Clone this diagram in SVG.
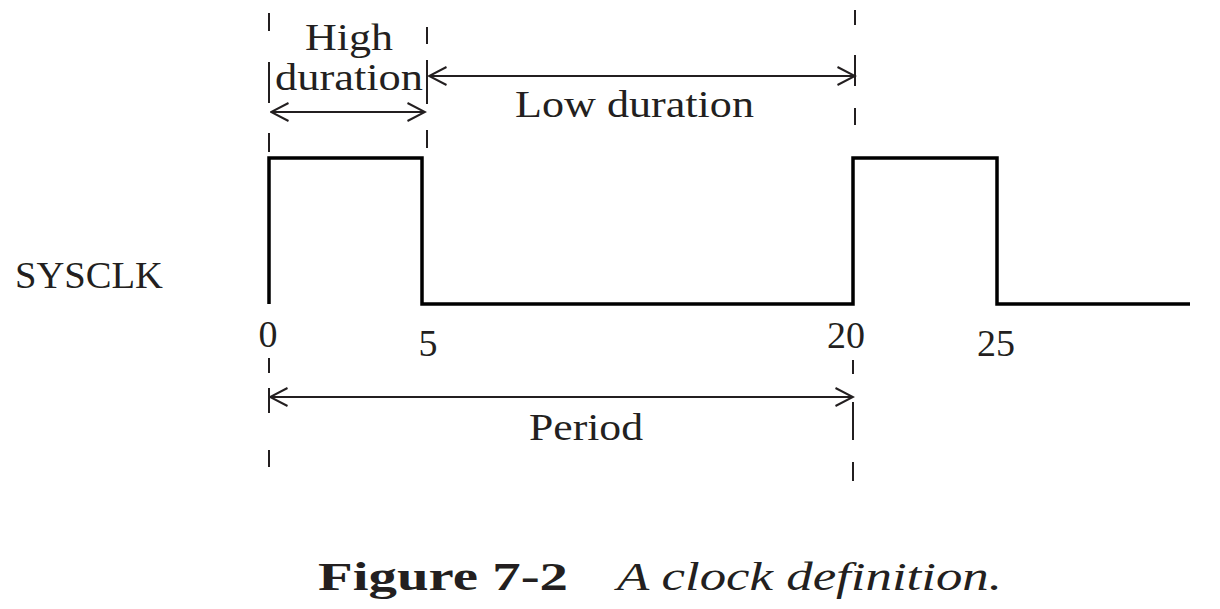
<svg xmlns="http://www.w3.org/2000/svg" width="1220" height="609" viewBox="0 0 1220 609">
<defs>
<style>
.t{font-family:"Liberation Serif","Times New Roman",serif;fill:#231f20;font-size:38px}
.d{stroke:#231f20;stroke-width:2;fill:none}
.a{stroke:#231f20;stroke-width:2;fill:none}
.w{stroke:#000;stroke-width:3.5;fill:none;stroke-linejoin:miter;stroke-linecap:butt}
.cb{font-family:"Liberation Serif","Times New Roman",serif;font-weight:bold;font-size:40px;fill:#231f20}
.ci{font-family:"Liberation Serif","Times New Roman",serif;font-style:italic;font-size:40px;fill:#231f20}
</style>
<marker id="ah" viewBox="0 0 20 20" refX="18.5" refY="10" markerWidth="20" markerHeight="20" markerUnits="userSpaceOnUse" orient="auto-start-reverse">
<path d="M1,1 L18.5,10 L1,19" fill="none" stroke="#231f20" stroke-width="2"/>
</marker>
</defs>
<rect width="1220" height="609" fill="#fff"/>
<g id="guides">
<path class="d" d="M269,13 V31 M269,62 V103 M269,133 V152 M269,358 V373 M269,388 V413 M269,450 V467"/>
<path class="d" d="M427,27 V44 M427,60 V104 M427,130 V148"/>
<path class="d" d="M855,10 V25 M855,55 V86 M855,108 V125"/>
<path class="d" d="M853,360 V374 M853,402 V440 M853,462 V481"/>
</g>
<g id="connectors">
<line class="a" x1="271" y1="112" x2="425" y2="112" marker-start="url(#ah)" marker-end="url(#ah)"/>
<line class="a" x1="429" y1="76" x2="855" y2="76" marker-start="url(#ah)" marker-end="url(#ah)"/>
<line class="a" x1="270" y1="397" x2="853" y2="397" marker-start="url(#ah)" marker-end="url(#ah)"/>
</g>
<g id="waveform">
<path class="w" d="M269,304 V158 H422 V304 H853 V158 H997 V304 H1190"/>
</g>
<g id="labels">
<text class="t" x="15" y="288" textLength="148" lengthAdjust="spacingAndGlyphs">SYSCLK</text>
<text class="t" x="305" y="50" textLength="88" lengthAdjust="spacingAndGlyphs">High</text>
<text class="t" x="275" y="90" textLength="148" lengthAdjust="spacingAndGlyphs">duration</text>
<text class="t" x="515" y="117" textLength="239" lengthAdjust="spacingAndGlyphs">Low duration</text>
<text class="t" x="529" y="440" textLength="114" lengthAdjust="spacingAndGlyphs">Period</text>
<text class="t" x="268" y="347" text-anchor="middle">0</text>
<text class="t" x="428" y="356" text-anchor="middle">5</text>
<text class="t" x="846" y="348" text-anchor="middle">20</text>
<text class="t" x="996" y="356" text-anchor="middle">25</text>
</g>
<g id="caption">
<text class="cb" x="318" y="590" textLength="250" lengthAdjust="spacingAndGlyphs">Figure 7-2</text>
<text class="ci" x="617" y="590" textLength="385" lengthAdjust="spacingAndGlyphs">A clock definition.</text>
</g>
</svg>
